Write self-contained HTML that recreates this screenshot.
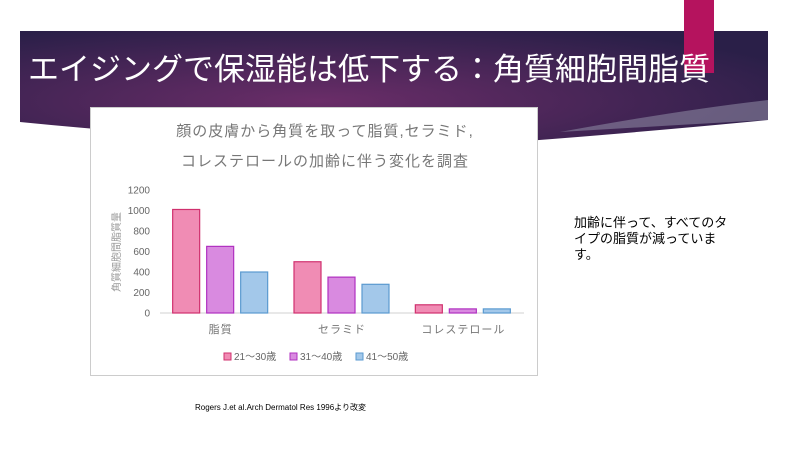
<!DOCTYPE html>
<html><head><meta charset="utf-8"><style>
body{margin:0;width:800px;height:450px;background:#fff;position:relative;overflow:hidden;font-family:"Liberation Sans","Noto Sans CJK JP",sans-serif}
.abs{position:absolute}
</style></head><body>
<svg class="abs" style="left:0;top:0" width="800" height="450">
<defs><radialGradient id="bg" cx="0.4" cy="0.6" r="0.7"><stop offset="0" stop-color="#6a2d68"/><stop offset="1" stop-color="#2a1f48"/></radialGradient></defs>
<path d="M20 31 H768 V120 Q560 140 420 148 Q200 140 20 122 Z" fill="url(#bg)"/>
<path d="M560 132 Q680 110 768 100 V120 Q660 126 560 132 Z" fill="#8a86a0" opacity="0.6"/>
<rect x="684" y="0" width="30" height="73" fill="#b5135e"/>
</svg>
<div class="abs" style="left:28px;top:44px;color:#fff;font-size:31px;white-space:nowrap;letter-spacing:0px">エイジングで保湿能は低下する：角質細胞間脂質</div>
<div class="abs" style="left:90px;top:107px;width:448px;height:269px;background:#fff;border:1px solid #ccc;box-sizing:border-box"></div>
<svg class="abs" id="chart" style="left:0;top:0" width="800" height="450"></svg>
<div class="abs" style="left:574px;top:215px;font-size:13px;line-height:16px;color:#000;width:160px">加齢に伴って、すべてのタイプの脂質が減っています。</div>
<div class="abs" style="left:195px;top:402px;font-size:8px;color:#000">Rogers J.et al.Arch Dermatol Res 1996より改変</div>
<script>
const categories=["脂質","セラミド","コレステロール"];
const seriesNames=["21～30歳","31～40歳","41～50歳"];
const s1=[1010,500,80];
const s2=[650,350,40];
const s3=[400,280,40];
const ticks=[0,200,400,600,800,1000,1200];
const series=[s1,s2,s3];
const fills=["#f08cb4","#d98ae0","#a3c8ea"];
const strokes=["#d0306e","#b030c0","#5a9ad0"];
const svg=document.getElementById('chart');
const NS='http://www.w3.org/2000/svg';
const y0=313,yTop=190,x0=160,x1=524;
const y=v=>y0-(v/1200)*(y0-yTop);
const gw=(x1-x0)/categories.length;
function mk(t,a,txt){const e=document.createElementNS(NS,t);for(const k in a)e.setAttribute(k,a[k]);if(txt!=null)e.textContent=txt;svg.appendChild(e);return e;}
let e;
e=mk('text',{x:325,y:136,'text-anchor':'middle','font-size':15,fill:'#777','letter-spacing':'1'},'顔の皮膚から角質を取って脂質,セラミド,');


e=mk('text',{x:325,y:166,'text-anchor':'middle','font-size':15,fill:'#777','letter-spacing':'1'},'コレステロールの加齢に伴う変化を調査');


ticks.forEach(t=>{e=mk('text',{x:150,y:y(t)+3.5,'text-anchor':'end','font-size':10,fill:'#666'},t);

});
e=mk('text',{transform:'translate(120,252) rotate(-90)','text-anchor':'middle','font-size':10,fill:'#999'},'角質細胞間脂質量');


e=mk('line',{x1:x0,x2:x1,y1:y0,y2:y0,stroke:'#d0d0d0'});


categories.forEach((c,i)=>{const cx=x0+gw*(i+0.5);
series.forEach((s,j)=>{const bx=cx-48+j*34;
e=mk('rect',{x:bx,y:y(s[i]),width:27,height:y0-y(s[i]),fill:fills[j],stroke:strokes[j],'stroke-width':1.2});

});
e=mk('text',{x:cx,y:333,'text-anchor':'middle','font-size':11,fill:'#777','letter-spacing':'1'},c);

});
seriesNames.forEach((n,j)=>{const lx=224+j*66;
e=mk('rect',{x:lx,y:353,width:7,height:7,fill:fills[j],stroke:strokes[j]});


e=mk('text',{x:lx+10,y:360,'font-size':10,fill:'#666'},n);

});
</script>
</body></html>
